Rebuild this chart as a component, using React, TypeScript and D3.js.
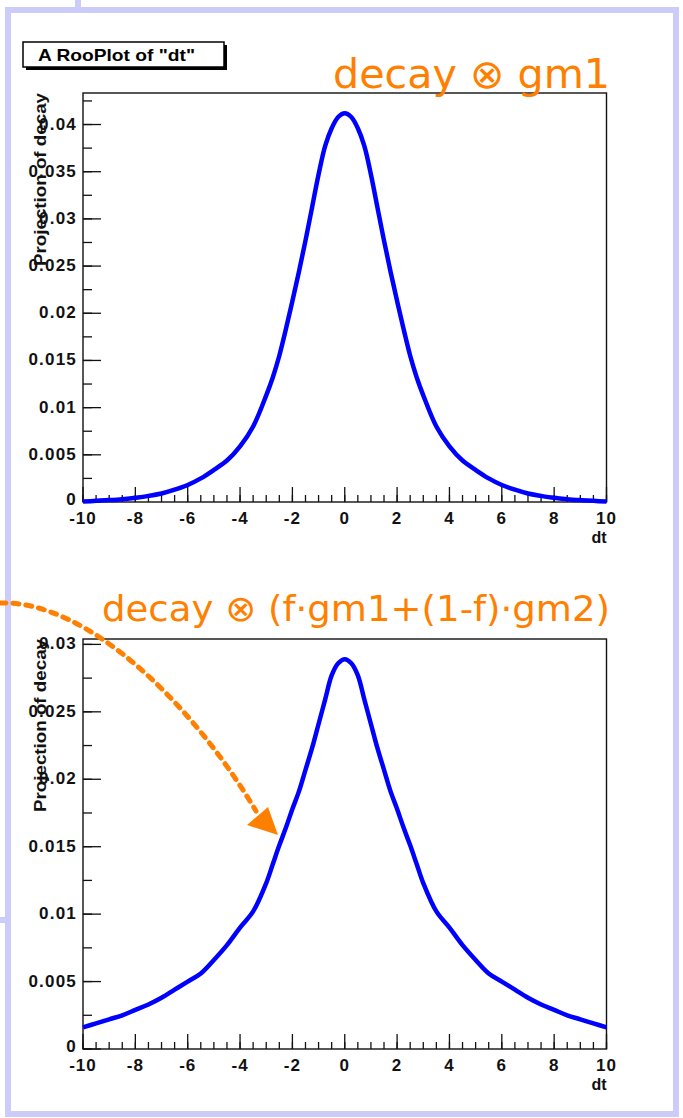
import React from 'react';
import * as d3 from 'd3';

// dt sample positions (x axis)
const dtPoints = [-10, -9.5, -9, -8.5, -8, -7.5, -7, -6.5, -6, -5.5, -5, -4.5, -4, -3.5, -3, -2.75, -2.5, -2.25, -2, -1.75, -1.5, -1.25, -1, -0.75, -0.5, -0.25, 0, 0.25, 0.5, 0.75, 1, 1.25, 1.5, 1.75, 2, 2.25, 2.5, 2.75, 3, 3.5, 4, 4.5, 5, 5.5, 6, 6.5, 7, 7.5, 8, 8.5, 9, 9.5, 10];

// decay ⊗ gm1
const projGm1 = [0.00005, 0.00012, 0.0002, 0.0003, 0.00044, 0.00065, 0.0009, 0.0013, 0.0018, 0.0025, 0.0034, 0.0044, 0.0059, 0.008, 0.0113, 0.0132, 0.0155, 0.0183, 0.0213, 0.0244, 0.0277, 0.0312, 0.0347, 0.0377, 0.0396, 0.0408, 0.0412, 0.0408, 0.0396, 0.0377, 0.0347, 0.0312, 0.0277, 0.0244, 0.0213, 0.0183, 0.0155, 0.0132, 0.0113, 0.008, 0.0059, 0.0044, 0.0034, 0.0025, 0.0018, 0.0013, 0.0009, 0.00065, 0.00044, 0.0003, 0.0002, 0.00012, 0.00005];

// decay ⊗ (f·gm1+(1-f)·gm2)
const projGm12 = [0.0016, 0.0019, 0.0022, 0.0025, 0.0029, 0.0033, 0.0038, 0.0044, 0.005, 0.0056, 0.0066, 0.0077, 0.009, 0.0102, 0.0123, 0.0137, 0.0151, 0.0164, 0.0178, 0.0191, 0.0207, 0.0223, 0.0241, 0.0259, 0.0277, 0.0286, 0.0289, 0.0286, 0.0277, 0.0259, 0.0241, 0.0223, 0.0207, 0.0191, 0.0178, 0.0164, 0.0151, 0.0137, 0.0123, 0.0102, 0.009, 0.0077, 0.0066, 0.0056, 0.005, 0.0044, 0.0038, 0.0033, 0.0029, 0.0025, 0.0022, 0.0019, 0.0016];

const xTickLabels = ['-10', '-8', '-6', '-4', '-2', '0', '2', '4', '6', '8', '10'];
const yTicks1 = [0, 0.005, 0.01, 0.015, 0.02, 0.025, 0.03, 0.035, 0.04];
const yTicks2 = [0, 0.005, 0.01, 0.015, 0.02, 0.025, 0.03];

const plotTitle = 'A RooPlot of "dt"';
const yTitle = 'Projection of decay';
const xTitle = 'dt';
const label1 = 'decay ⊗ gm1';
const label2 = 'decay ⊗ (f·gm1+(1-f)·gm2)';

const LEFT = 83;
const RIGHT = 606.5;
const TICKFONT = "'Liberation Sans', Arial, sans-serif";
const ORANGE = '#ff8000';
const LAV = '#ccccfb';

function fmt(v: number) {
  return String(+v.toFixed(3));
}

function Panel({ top, bottom, ymax, values, yTicks }: { top: number; bottom: number; ymax: number; values: number[]; yTicks: number[] }) {
  const x = d3.scaleLinear().domain([-10, 10]).range([LEFT, RIGHT]);
  const y = d3.scaleLinear().domain([0, ymax]).range([bottom, top]);
  const line = d3
    .line<number>()
    .x((_, i) => x(dtPoints[i]))
    .y((d) => y(d))
    .curve(d3.curveCatmullRom.alpha(0.5));
  const minorX = d3.range(-10, 10.001, 0.5);
  const majorX = xTickLabels.map(Number);
  const minorY = d3.range(0, ymax, 0.0025);
  return (
    <g>
      <rect x={LEFT} y={top} width={RIGHT - LEFT} height={bottom - top} fill="white" stroke="#111" strokeWidth={1.4} />
      {minorX.map((v, i) => (
        <line key={'mx' + i} x1={x(v)} x2={x(v)} y1={bottom} y2={bottom - 7} stroke="#111" strokeWidth={1.3} />
      ))}
      {majorX.map((v, i) => (
        <line key={'Mx' + i} x1={x(v)} x2={x(v)} y1={bottom} y2={bottom - 15} stroke="#111" strokeWidth={1.3} />
      ))}
      {minorY.map((v, i) => (
        <line key={'my' + i} x1={LEFT} x2={LEFT + 9} y1={y(v)} y2={y(v)} stroke="#111" strokeWidth={1.3} />
      ))}
      {yTicks.map((v, i) => (
        <line key={'My' + i} x1={LEFT} x2={LEFT + 18} y1={y(v)} y2={y(v)} stroke="#111" strokeWidth={1.3} />
      ))}
      <path d={line(values) || ''} fill="none" stroke="#0000ff" strokeWidth={4.5} strokeLinejoin="round" />
      {xTickLabels.map((t, i) => (
        <text key={'xl' + i} x={x(majorX[i])} y={bottom + 22} textAnchor="middle" fontFamily={TICKFONT} fontWeight="bold" fontSize={17} letterSpacing={1} fill="#111">
          {t}
        </text>
      ))}
      {yTicks.map((v, i) => (
        <text key={'yl' + i} x={LEFT - 6} y={y(v) + (v === 0 ? 3 : 5)} textAnchor="end" fontFamily={TICKFONT} fontWeight="bold" fontSize={17} letterSpacing={1.2} fill="#111">
          {fmt(v)}
        </text>
      ))}
      <text x={RIGHT} y={bottom + 40.5} textAnchor="end" fontFamily={TICKFONT} fontWeight="bold" fontSize={16} fill="#111">
        {xTitle}
      </text>
      <text transform={`translate(46,${top}) rotate(-90)`} textAnchor="end" fontFamily={TICKFONT} fontWeight="bold" fontSize={16} fill="#111" textLength={173} lengthAdjust="spacingAndGlyphs">
        {yTitle}
      </text>
    </g>
  );
}

export default function App() {
  return (
    <svg width={683} height={1118} style={{ position: 'absolute', left: 0, top: 0, background: 'white' }}>
      <rect x={0} y={0} width={683} height={1118} fill="white" />
      {/* lavender frame */}
      <rect x={8} y={10} width={668} height={1104} fill="none" stroke={LAV} strokeWidth={6} />
      <line x1={78} x2={78} y1={0} y2={10} stroke={LAV} strokeWidth={6} />
      <line x1={0} x2={8} y1={920} y2={920} stroke={LAV} strokeWidth={6} />

      {/* title box */}
      <rect x={26} y={45} width={201} height={25} fill="#000" />
      <rect x={23} y={42} width={201} height={25} fill="white" stroke="#000" strokeWidth={1.5} />
      <text x={38} y={61} fontFamily={TICKFONT} fontWeight="bold" fontSize={17} fill="#000" textLength={157} lengthAdjust="spacingAndGlyphs">
        {plotTitle}
      </text>

      <Panel top={93} bottom={502} ymax={0.04334} values={projGm1} yTicks={yTicks1} />
      <Panel top={639} bottom={1049} ymax={0.0304} values={projGm12} yTicks={yTicks2} />

      {/* orange labels */}
      <text x={333} y={88} fontFamily="'DejaVu Sans', sans-serif" fontSize={40} fill={ORANGE} textLength={277} lengthAdjust="spacingAndGlyphs">
        {label1}
      </text>
      <text x={102} y={621} fontFamily="'DejaVu Sans', sans-serif" fontSize={36} fill={ORANGE} textLength={508} lengthAdjust="spacingAndGlyphs">
        {label2}
      </text>

      {/* dashed arrow */}
      <path d="M0,603 C85,600 190,700 256,811" fill="none" stroke={ORANGE} strokeWidth={5} strokeDasharray="6,7" strokeLinecap="round" />
      <polygon points="278,835 247,825 268,807" fill={ORANGE} />
    </svg>
  );
}
